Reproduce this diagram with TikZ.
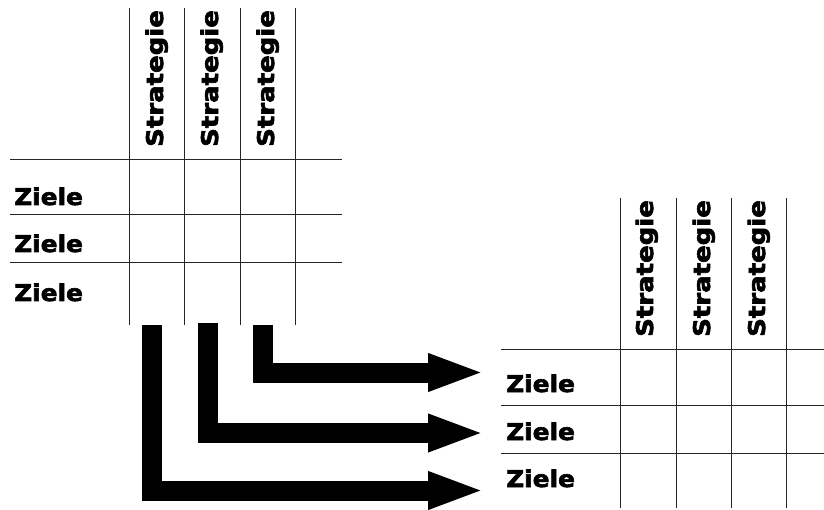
\documentclass[tikz,border=0pt]{standalone}
\usepackage{fontspec}
\usepackage{graphicx}
\newfontfamily\heavy{DejaVu Sans}[UprightFont=* Bold, FakeBold=2.5]
\usetikzlibrary{arrows.meta}
\newcommand\zieltxt{\scalebox{1.08}[1]{Ziele}}
\newcommand\strattxt{\scalebox{1.13}[1]{Strategie}}
\tikzset{
  gridline/.style={line width=0.9pt, black!85},
  lbl/.style={inner sep=0pt, font=\heavy\fontsize{23}{23}\selectfont},
  strat/.style={lbl, rotate=90, anchor=base west},
  ziel/.style={lbl, anchor=base west},
  flow/.style={line width=20pt, draw=black, -{Triangle[length=57pt,width=34pt]}}
}
\begin{document}
\begin{tikzpicture}[x=1pt,y=-1pt]
\useasboundingbox (0,0) rectangle (824,510);
% left table
\foreach \x in {129,184,240,295} \draw[gridline] (\x,8) -- (\x,325);
\foreach \y in {159,214,262} \draw[gridline] (10,\y) -- (342,\y);
\node[strat] (sl1) at (163,147) {\strattxt};
\node[strat] (sl2) at (218,147) {\strattxt};
\node[strat] (sl3) at (274,147) {\strattxt};
\node[ziel] (zl1) at (14,205) {\zieltxt};
\node[ziel] (zl2) at (14,252) {\zieltxt};
\node[ziel] (zl3) at (14,301) {\zieltxt};
% right table
\foreach \x in {620,676,731,786} \draw[gridline] (\x,198) -- (\x,508);
\foreach \y in {349,405,453} \draw[gridline] (501,\y) -- (824,\y);
\node[strat] (sr1) at (653,337) {\strattxt};
\node[strat] (sr2) at (710,337) {\strattxt};
\node[strat] (sr3) at (765,337) {\strattxt};
\node[ziel] (zr1) at (506,392) {\zieltxt};
\node[ziel] (zr2) at (506,440) {\zieltxt};
\node[ziel] (zr3) at (506,487) {\zieltxt};
% arrows
\coordinate (a1) at (152,325);
\coordinate (a2) at (208,323);
\coordinate (a3) at (263,325);
\coordinate (e1) at (485,490.5);
\coordinate (e2) at (485,433);
\coordinate (e3) at (485,372.5);
\draw[flow] (a1) |- (e1);
\draw[flow] (a2) |- (e2);
\draw[flow] (a3) |- (e3);
\end{tikzpicture}
\end{document}
